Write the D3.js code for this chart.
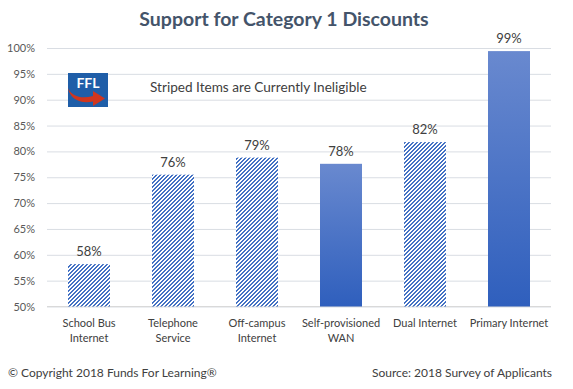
<!DOCTYPE html>
<html lang="en">
<head>
<meta charset="utf-8">
<title>Support for Category 1 Discounts</title>
<script src="https://cdn.jsdelivr.net/npm/d3@7"></script>
<style>
  body { margin: 0; background: #fff; }
  text { font-family: Lato, "Open Sans", sans-serif; }
</style>
</head>
<body>
<script>
// chart data
var categories = ["School Bus Internet", "Telephone Service", "Off-campus Internet",
                  "Self-provisioned WAN", "Dual Internet", "Primary Internet"];
var catLines = [["School Bus", "Internet"], ["Telephone", "Service"], ["Off-campus", "Internet"],
                ["Self-provisioned", "WAN"], ["Dual Internet"], ["Primary Internet"]];
var values = [58.2, 75.5, 78.8, 77.6, 81.8, 99.4];
var valueLabels = ["58%", "76%", "79%", "78%", "82%", "99%"];
var striped = [true, true, true, false, true, false];
var yTicks = [50, 55, 60, 65, 70, 75, 80, 85, 90, 95, 100];

var w = 573, h = 389;
var plotLeft = 47, plotRight = 551, plotTop = 48, plotBottom = 306.5;

var svg = d3.select("body").append("svg")
  .attr("width", w).attr("height", h);

var defs = svg.append("defs");

// pixel stripe pattern ("/" direction) for ineligible items
var pat = defs.append("pattern")
  .attr("id", "stripes")
  .attr("patternUnits", "userSpaceOnUse")
  .attr("width", 4).attr("height", 4);
pat.append("rect").attr("width", 4).attr("height", 4).attr("fill", "#fff");
[[2, 0], [1, 1], [0, 2], [3, 3], [0, 3]].forEach(function(p, k) {
  var wd = k === 3 || k === 4 ? 1 : 2;
  pat.append("rect")
    .attr("x", p[0]).attr("y", p[1])
    .attr("width", wd).attr("height", 1)
    .attr("shape-rendering", "crispEdges")
    .attr("fill", "#4472C4");
});

var grad = defs.append("linearGradient")
  .attr("id", "barGrad")
  .attr("x1", 0).attr("y1", 0).attr("x2", 0).attr("y2", 1);
grad.append("stop").attr("offset", "0%").attr("stop-color", "#6989cf");
grad.append("stop").attr("offset", "100%").attr("stop-color", "#2f5fbd");

var x = d3.scaleBand().domain(categories).range([plotLeft, plotRight]).paddingInner(0.5).paddingOuter(0.25);
var y = d3.scaleLinear().domain([50, 100]).range([plotBottom, plotTop]);

// title
svg.append("text")
  .attr("x", 284).attr("y", 26)
  .attr("text-anchor", "middle")
  .attr("font-size", 19.5).attr("font-weight", "bold")
  .attr("fill", "#44546A")
  .text("Support for Category 1 Discounts");

// gridlines + y axis labels
var yAxis = d3.axisLeft(y).tickValues(yTicks)
  .tickSize(-(plotRight - plotLeft)).tickPadding(12)
  .tickFormat(function(d) { return d + "%"; });
var gy = svg.append("g")
  .attr("transform", "translate(" + plotLeft + ",0)")
  .call(yAxis);
gy.select(".domain").remove();
gy.selectAll("line").attr("stroke", "#D9DDE3");
gy.selectAll("text").attr("font-size", 11).attr("fill", "#595959")
  .attr("font-family", "Lato, sans-serif");

// x axis baseline
svg.append("line")
  .attr("x1", plotLeft).attr("x2", plotRight)
  .attr("y1", plotBottom).attr("y2", plotBottom)
  .attr("stroke", "#D9D9D9");

// bars
svg.selectAll("rect.bar")
  .data(values)
  .enter().append("rect")
  .attr("class", "bar")
  .attr("x", function(d, i) { return x(categories[i]); })
  .attr("width", x.bandwidth())
  .attr("y", function(d) { return y(d); })
  .attr("height", function(d) { return plotBottom - y(d); })
  .attr("fill", function(d, i) { return striped[i] ? "url(#stripes)" : "url(#barGrad)"; });

// value labels
svg.selectAll("text.val")
  .data(values)
  .enter().append("text")
  .attr("class", "val")
  .attr("x", function(d, i) { return x(categories[i]) + x.bandwidth() / 2; })
  .attr("y", function(d) { return y(d) - 8; })
  .attr("text-anchor", "middle")
  .attr("font-size", 13).attr("fill", "#404040")
  .text(function(d, i) { return valueLabels[i]; });

// category labels
var cl = svg.selectAll("text.cat")
  .data(catLines)
  .enter().append("text")
  .attr("class", "cat")
  .attr("text-anchor", "middle")
  .attr("font-size", 11).attr("fill", "#404040")
  .attr("transform", function(d, i) {
    return "translate(" + (x(categories[i]) + x.bandwidth() / 2) + "," + (plotBottom + 20) + ")";
  });
cl.selectAll("tspan")
  .data(function(d) { return d; })
  .enter().append("tspan")
  .attr("x", 0)
  .attr("dy", function(d, j) { return j === 0 ? 0 : 15; })
  .text(function(d) { return d; });

// FFL logo
var logo = svg.append("g").attr("transform", "translate(68,73)");
logo.append("rect").attr("width", 40).attr("height", 34).attr("fill", "#1F5EA8");
logo.append("text").attr("x", 20).attr("y", 15)
  .attr("text-anchor", "middle").attr("font-size", 14).attr("font-weight", "bold")
  .attr("fill", "#fff").attr("font-family", "Liberation Sans, sans-serif")
  .text("FFL");
logo.append("path")
  .attr("d", "M0,15 C4,24 14,26 25,23 L25,18 L37,25.5 L25,33 L25,28.5 C12,31 2,26 0,15 Z")
  .attr("fill", "#D0361E");

// note
svg.append("text")
  .attr("x", 150).attr("y", 92)
  .attr("font-size", 13.6).attr("fill", "#404040")
  .text("Striped Items are Currently Ineligible");

// footer
svg.append("text")
  .attr("x", 8).attr("y", 377)
  .attr("font-size", 12).attr("fill", "#404040")
  .text("© Copyright 2018 Funds For Learning®");
svg.append("text")
  .attr("x", 552).attr("y", 377)
  .attr("text-anchor", "end")
  .attr("font-size", 12).attr("fill", "#404040")
  .text("Source: 2018 Survey of Applicants");
</script>
</body>
</html>
